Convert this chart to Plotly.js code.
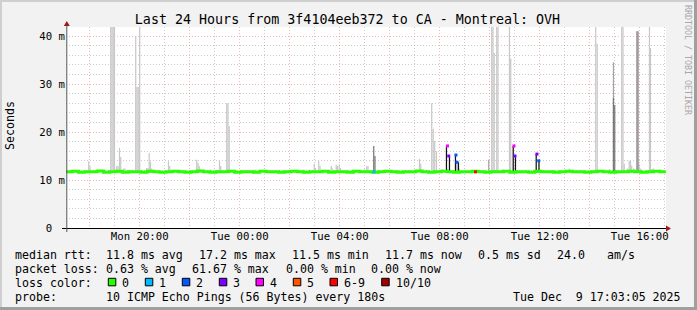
<!DOCTYPE html>
<html><head><meta charset="utf-8">
<script src="https://cdn.plot.ly/plotly-3.0.1.min.js"></script>
<style>html,body{margin:0;padding:0;background:#f2f2f2;}#chart{width:697px;height:310px;}</style>
</head><body><div id="chart"></div>
<script>
// ---------------- data ----------------
// time axis in hours since Mon 00:00 (window ends Tue 17:03:05)
const timeStart = 17.0514, timeEnd = 41.0514;
const stepHours = 0.05; // 180 s probe step
const xMajorVals = [18,20,22,24,26,28,30,32,34,36,38,40];
const xMajorText = ["","Mon 20:00","","Tue 00:00","","Tue 04:00","","Tue 08:00","","Tue 12:00","","Tue 16:00"];
const xMinorVals = [17,19,21,23,25,27,29,31,33,35,37,39,41];
const yMajorVals = [0,10,20,30,40];
const yMajorText = ["0\u00a0\u00a0","10 m","20 m","30 m","40 m"];
const yMinorVals = [2,4,6,8,12,14,16,18,22,24,26,28,32,34,36,38];

// median rtt (ms), every 15 min from 17:03 Mon
const medianStart = 17.05, medianStep = 0.25;
const medianMs = [
11.7,11.8,11.6,11.7,11.7,11.9,11.6,11.7,11.8,11.6,
11.7,11.7,11.6,11.8,11.7,11.6,11.7,11.8,11.7,11.6,
11.7,11.9,11.7,11.6,11.7,11.7,11.8,11.6,11.7,11.7,
11.6,11.8,11.7,11.7,11.6,11.7,11.8,11.7,11.6,11.7,
11.7,11.8,11.6,11.7,11.7,11.6,11.8,11.7,11.7,11.6,
11.7,11.8,11.7,11.6,11.7,11.7,11.9,11.7,11.6,11.7,
11.8,11.7,11.6,11.7,11.7,11.8,11.7,11.6,11.7,11.7,
11.8,11.6,11.7,11.7,11.6,11.8,11.7,11.7,11.6,11.7,
11.8,11.7,11.7,11.6,11.7,11.8,11.7,11.6,11.7,11.7,
11.8,11.7,11.6,11.7,11.8,11.7,11.7];

// smoke (ping spread) – lower bound and upper bound per probe step
const smokeFloorMs = 11.5;
const smokeLightT = [17.96,18.01,18.84,18.89,18.94,18.99,19.08,19.13,19.19,19.24,19.36,19.41,
  19.84,19.89,19.94,20.00,20.28,20.33,20.38,20.43,20.48,21.15,21.20,22.28,22.33,22.38,22.43,22.84,
  23.19,23.24,23.48,23.53,23.58,24.64,26.56,26.98,27.03,27.16,27.21,27.66,27.71,27.86,27.91,27.98,28.03,
  28.40,28.45,29.00,29.08,29.13,31.19,31.24,31.68,31.74,31.80,31.87,32.10,32.30,32.68,32.73,32.78,
  34.08,34.13,34.18,34.28,34.33,34.55,34.79,34.84,37.18,38.24,38.30,38.79,
  39.28,39.33,39.38,39.50,39.58,39.63,39.68,39.76,39.98,40.04,40.39,40.43,40.48,40.55,40.80];
const smokeLightMs = [13.9,12.9,45,45,45,45,12.9,12.9,16.7,14.8,12.4,12.4,
  40.0,29.4,29.4,45,12.5,12.5,15.6,13.8,12.4,13.9,12.9,14.2,13.6,12.9,12.2,12.2,
  14.0,12.9,26.0,26.0,21.2,12.2,12.2,13.4,12.5,14.0,12.9,12.9,12.4,13.2,12.9,13.3,12.5,
  12.0,12.0,12.2,12.9,12.9,14.4,13.4,26.0,20.7,18.1,16.0,12.3,12.3,13.6,13.6,12.4,
  45,45,36.5,45,45,12.2,45,35.3,12.4,45,38.4,12.3,
  45,45,13.4,12.4,14.0,14.0,13.0,12.4,13.4,12.4,45,37.5,12.3,12.4,12.2];
const smokeMidT  = [33.96,38.95,39.88];
const smokeMidMs = [14.2,34.5,41.0];
const smokeDarkT  = [29.36,29.41,38.95,39.00,39.93];
const smokeDarkMs = [17.1,15.0,27.1,25.6,41.0];
const smokeLossT  = [32.27,32.39,32.63,32.75,34.94,35.03,35.86,35.97];
const smokeLossMs = [17.1,15.0,15.2,13.7,17.1,15.0,15.4,14.0];

// median segments drawn in loss colour (pings lost out of 10)
const lossT     = [29.37,32.31,32.36,32.65,32.69,33.43,34.97,35.01,35.89,35.96];
const lossMs    = [11.7,17.1,15.0,15.2,13.7,11.7,17.1,15.0,15.4,14.0];
const lossPings = [1,4,3,2,2,6,4,3,3,2];

const lossLabels = ["0","1","2","3","4","5","6-9","10/10"];
const lossColors = ["#26ff00","#00b8ff","#0059ff","#7e00ff","#ff00ff","#ff5500","#ff0000","#a10000"];

const titleText = "Last 24 Hours from 3f4104eeb372 to CA - Montreal: OVH";
const statRow1 = ["median rtt:","11.8 ms avg","17.2 ms max","11.5 ms min","11.7 ms now","0.5 ms sd","24.0","am/s"];
const statRow2 = ["packet loss:","0.63 % avg","61.67 % max","0.00 % min","0.00 % now"];
const statRow3 = ["loss color:"];
const statRow4 = ["probe:","10 ICMP Echo Pings (56 Bytes) every 180s","Tue Dec  9 17:03:05 2025"];

// ---------------- layout helpers ----------------
const MONO = "DejaVu Sans Mono";
const G = {L:66, T:27, W:600, H:201};
const fx = px => (px - G.L) / G.W;
const fy = py => (G.T + G.H - py) / G.H;
const nb = s => s.replace(/ /g, "\u00a0");
const lossIndex = n => n >= 10 ? 7 : (n >= 6 ? 6 : n);

function smoke(ts, ms, color){
  return {type:'bar', x:ts, y:ms.map(v => v - smokeFloorMs), base:smokeFloorMs,
    width:stepHours, marker:{color:color, line:{width:0}}, hoverinfo:'skip'};
}
const medianT = medianMs.map((_, i) => medianStart + i * medianStep);

const traces = [
  smoke(smokeLightT, smokeLightMs, '#c8c8c8'),
  smoke(smokeMidT, smokeMidMs, '#a4a4a4'),
  smoke(smokeDarkT, smokeDarkMs, '#7a7a7a'),
  smoke(smokeLossT, smokeLossMs, '#111111'),
  {type:'scatter', mode:'lines', x:medianT, y:medianMs,
   line:{color:lossColors[0], width:3, shape:'hv'}, hoverinfo:'skip'},
  {type:'scatter', mode:'markers', x:lossT, y:lossMs,
   marker:{symbol:'square', size:3, color:lossPings.map(n => lossColors[lossIndex(n)]), line:{width:0}},
   hoverinfo:'skip'}
];

const ann = [];
function txt(s, x, y, size, extra){
  ann.push(Object.assign({xref:'paper', yref:'paper', x:fx(x), y:fy(y), text:nb(s),
    showarrow:false, xanchor:'left', yanchor:'middle', borderpad:0, borderwidth:0,
    font:{family:MONO, size:size, color:'#000'}}, extra || {}));
}
const SZ = 11.6;
const row1X = [15, 106, 198.7, 292, 384.7, 478, 557.3, 606.5];
statRow1.forEach((s, i) => txt(s, row1X[i], 254.5, SZ));
const row2X = [15, 106.3, 192.4, 285.7, 371.3];
statRow2.forEach((s, i) => txt(s, row2X[i], 268.5, SZ));
txt(statRow3[0], 15, 282.5, SZ);
const row4X = [15, 106, 512.8];
statRow4.forEach((s, i) => txt(s, row4X[i], 296.5, SZ));

const boxX = [108.3, 145.3, 182.3, 219.3, 256, 293.3, 330, 381.7];
const shapes = [];
lossLabels.forEach((lab, i) => {
  txt(lab, boxX[i] + 14, 282.5, SZ);
  shapes.push({type:'rect', xref:'paper', yref:'paper', x0:fx(boxX[i]), x1:fx(boxX[i] + 7.5),
    y0:fy(278.3), y1:fy(285.8), fillcolor:lossColors[i], line:{color:'#000', width:1}});
});

// axis titles & watermark
ann.push({xref:'paper', yref:'paper', x:fx(10), y:fy(126), text:'Seconds', textangle:-90,
  showarrow:false, xanchor:'center', yanchor:'middle', font:{family:MONO, size:11.6, color:'#000'}});
ann.push({xref:'paper', yref:'paper', x:fx(688), y:fy(60), text:nb('RRDTOOL / TOBI OETIKER'), textangle:90,
  showarrow:false, xanchor:'center', yanchor:'middle', font:{family:MONO, size:8.3, color:'#a8a8a8'}});

// frame, axes and arrows
shapes.push(
  {type:'rect', xref:'paper', yref:'paper', x0:fx(0), x1:fx(697), y0:fy(2), y1:fy(0), fillcolor:'#cfcfcf', line:{width:0}},
  {type:'rect', xref:'paper', yref:'paper', x0:fx(0), x1:fx(2), y0:fy(310), y1:fy(0), fillcolor:'#cfcfcf', line:{width:0}},
  {type:'rect', xref:'paper', yref:'paper', x0:fx(694), x1:fx(697), y0:fy(310), y1:fy(0), fillcolor:'#9f9f9f', line:{width:0}},
  {type:'rect', xref:'paper', yref:'paper', x0:fx(0), x1:fx(697), y0:fy(310), y1:fy(307), fillcolor:'#9f9f9f', line:{width:0}},
  {type:'line', xref:'paper', yref:'paper', x0:fx(62), x1:fx(666), y0:fy(228.5), y1:fy(228.5), line:{color:'#000', width:1}},
  {type:'line', xref:'paper', yref:'paper', x0:fx(66.8), x1:fx(66.8), y0:fy(232), y1:fy(25), line:{color:'#555', width:1}},
  {type:'path', xref:'paper', yref:'paper', fillcolor:'#9c1a1a', line:{width:0},
   path:`M${fx(63.8)},${fy(26)} L${fx(69.8)},${fy(26)} L${fx(66.8)},${fy(21)} Z`},
  {type:'path', xref:'paper', yref:'paper', fillcolor:'#9c1a1a', line:{width:0},
   path:`M${fx(666)},${fy(225.5)} L${fx(666)},${fy(231.5)} L${fx(671)},${fy(228.5)} Z`}
);

const gridMajor = 'rgba(230,110,110,0.5)';
const gridMinor = 'rgba(130,130,130,0.42)';
const layout = {
  width:697, height:310, margin:{l:G.L, r:697-G.L-G.W, t:G.T, b:310-G.T-G.H, pad:0},
  paper_bgcolor:'#f2f2f2', plot_bgcolor:'#ffffff', showlegend:false, barmode:'overlay',
  font:{family:MONO, color:'#000'},
  title:{text:titleText, x:347.5/697, xref:'container', xanchor:'center', y:1-19.5/310, yref:'container',
    yanchor:'middle', font:{family:MONO, size:13.33, color:'#000'}},
  xaxis:{range:[timeStart, timeEnd], tickmode:'array', tickvals:xMajorVals, ticktext:xMajorText,
    showgrid:true, gridcolor:gridMajor, griddash:'1px,2px', gridwidth:1, zeroline:false, showline:false,
    ticks:'', tickfont:{family:MONO, size:10.67, color:'#000'}, fixedrange:true,
    minor:{tickmode:'array', tickvals:xMinorVals, showgrid:true, gridcolor:gridMinor, griddash:'1px,2px', gridwidth:1}},
  yaxis:{range:[0, G.H/4.8], tickmode:'array', tickvals:yMajorVals, ticktext:yMajorText,
    showgrid:true, gridcolor:gridMajor, griddash:'1px,2px', gridwidth:1, zeroline:false, showline:false,
    ticks:'', tickfont:{family:MONO, size:10.67, color:'#000'}, fixedrange:true,
    minor:{tickmode:'array', tickvals:yMinorVals, showgrid:true, gridcolor:gridMinor, griddash:'1px,2px', gridwidth:1}},
  annotations:ann, shapes:shapes
};
Plotly.newPlot('chart', traces, layout, {displayModeBar:false, staticPlot:true});
</script></body></html>
